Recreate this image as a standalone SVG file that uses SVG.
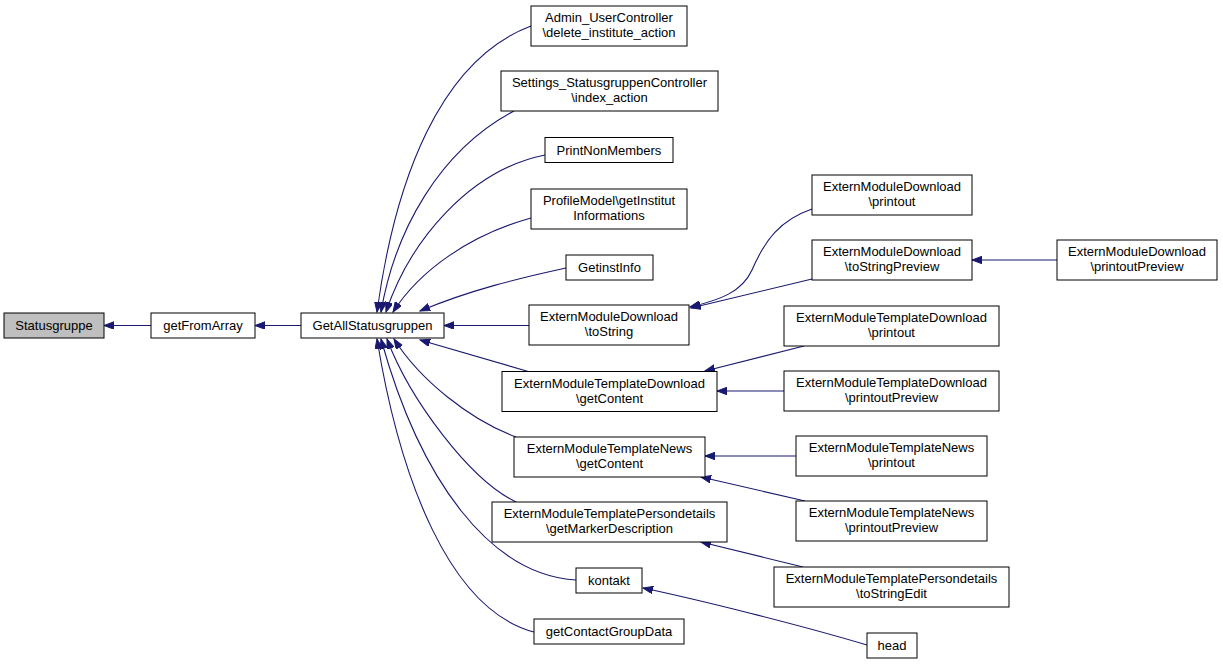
<svg xmlns="http://www.w3.org/2000/svg" width="1223" height="665" viewBox="0 0 1223 665">
<style>
.n rect{fill:#fff;stroke:#000;stroke-width:1}
.n text{font-family:"Liberation Sans",Arial,sans-serif;font-size:13px;text-anchor:middle;fill:#000}
.e path{fill:none;stroke:#191970;stroke-width:1.1;marker-end:url(#a)}
</style>
<defs>
<marker id="a" markerUnits="userSpaceOnUse" markerWidth="11" markerHeight="8" refX="10" refY="3.75" orient="auto">
<path d="M0,0 L10,3.75 L0,7.5 z" fill="#191970" stroke="#191970" stroke-width="1"/>
</marker>
</defs>
<rect width="1223" height="665" fill="#fff"/>
<g class="e" id="edges">
<path d="M151,325.5 L104,325.5"/>
<path d="M301,325.5 L255,325.5"/>
<path d="M531,26 C440,60 395,180 377,312"/>
<path d="M514,111 C440,150 395,230 381,312"/>
<path d="M545,155 C470,170 410,240 386,312"/>
<path d="M531,218 C470,235 420,270 393,312"/>
<path d="M566,268 C520,278 470,290 420,311"/>
<path d="M529,325.5 L444,325.5"/>
<path d="M530,372 L420,340"/>
<path d="M516,437 C470,420 420,380 394,339"/>
<path d="M516,502 C470,480 410,400 387,339"/>
<path d="M576,580 C490,575 420,480 381,339"/>
<path d="M534,632 C450,610 400,480 377,339"/>
<path d="M812,209 C780,220 765,240 752,270 C742,292 720,300 690,307"/>
<path d="M812,279 L691,308"/>
<path d="M1057,260 L972,260"/>
<path d="M804,346 L705,371"/>
<path d="M784,391 L717,391"/>
<path d="M796,456 L705,456"/>
<path d="M805,501 L701,477"/>
<path d="M803,567 L701,542"/>
<path d="M867,645 C800,625 700,600 643,588"/>
</g>
<g class="n" id="n_statusgruppe"><rect x="4" y="313" width="100" height="25" style="fill:#bfbfbf"/><text x="54" y="330">Statusgruppe</text></g>
<g class="n" id="n_getfromarray"><rect x="151" y="313" width="104" height="25"/><text x="203" y="330">getFromArray</text></g>
<g class="n" id="n_getall"><rect x="301" y="313" width="143" height="25"/><text x="372.5" y="330">GetAllStatusgruppen</text></g>
<g class="n" id="n_admin"><rect x="531" y="6" width="156" height="40"/><text x="609" y="22">Admin_UserController</text><text x="609" y="37">\delete_institute_action</text></g>
<g class="n" id="n_settings"><rect x="501" y="71" width="217" height="40"/><text x="609.5" y="87">Settings_StatusgruppenController</text><text x="609.5" y="102">\index_action</text></g>
<g class="n" id="n_printnon"><rect x="545" y="137.5" width="128" height="25"/><text x="609" y="154.5">PrintNonMembers</text></g>
<g class="n" id="n_profile"><rect x="531" y="189" width="156" height="40"/><text x="609" y="205">ProfileModel\getInstitut</text><text x="609" y="220">Informations</text></g>
<g class="n" id="n_getinst"><rect x="566" y="255" width="87" height="25"/><text x="609.5" y="272">GetinstInfo</text></g>
<g class="n" id="n_emd_tostring"><rect x="529" y="305" width="160" height="40"/><text x="609" y="321">ExternModuleDownload</text><text x="609" y="336">\toString</text></g>
<g class="n" id="n_emtd_getcontent"><rect x="502" y="371.5" width="215" height="40"/><text x="609.5" y="387.5">ExternModuleTemplateDownload</text><text x="609.5" y="402.5">\getContent</text></g>
<g class="n" id="n_emtn_getcontent"><rect x="514" y="437" width="191" height="40"/><text x="609.5" y="453">ExternModuleTemplateNews</text><text x="609.5" y="468">\getContent</text></g>
<g class="n" id="n_emtp_getmarker"><rect x="492" y="502" width="235" height="40"/><text x="609.5" y="518">ExternModuleTemplatePersondetails</text><text x="609.5" y="533">\getMarkerDescription</text></g>
<g class="n" id="n_kontakt"><rect x="576" y="568" width="66" height="25"/><text x="609" y="585">kontakt</text></g>
<g class="n" id="n_getcontact"><rect x="534" y="619" width="150" height="25"/><text x="609" y="636">getContactGroupData</text></g>
<g class="n" id="n_emd_printout"><rect x="812" y="175" width="160" height="40"/><text x="892" y="191">ExternModuleDownload</text><text x="892" y="206">\printout</text></g>
<g class="n" id="n_emd_tostringpreview"><rect x="812" y="240" width="160" height="40"/><text x="892" y="256">ExternModuleDownload</text><text x="892" y="271">\toStringPreview</text></g>
<g class="n" id="n_emd_printoutpreview"><rect x="1057" y="240" width="160" height="40"/><text x="1137" y="256">ExternModuleDownload</text><text x="1137" y="271">\printoutPreview</text></g>
<g class="n" id="n_emtd_printout"><rect x="784" y="306" width="215" height="40"/><text x="891.5" y="322">ExternModuleTemplateDownload</text><text x="891.5" y="337">\printout</text></g>
<g class="n" id="n_emtd_printoutpreview"><rect x="784" y="371" width="215" height="40"/><text x="891.5" y="387">ExternModuleTemplateDownload</text><text x="891.5" y="402">\printoutPreview</text></g>
<g class="n" id="n_emtn_printout"><rect x="796" y="436" width="191" height="40"/><text x="891.5" y="452">ExternModuleTemplateNews</text><text x="891.5" y="467">\printout</text></g>
<g class="n" id="n_emtn_printoutpreview"><rect x="796" y="501" width="191" height="40"/><text x="891.5" y="517">ExternModuleTemplateNews</text><text x="891.5" y="532">\printoutPreview</text></g>
<g class="n" id="n_emtp_tostringedit"><rect x="774" y="567" width="235" height="40"/><text x="891.5" y="583">ExternModuleTemplatePersondetails</text><text x="891.5" y="598">\toStringEdit</text></g>
<g class="n" id="n_head"><rect x="867" y="633" width="50" height="25"/><text x="892" y="650">head</text></g>
</svg>
